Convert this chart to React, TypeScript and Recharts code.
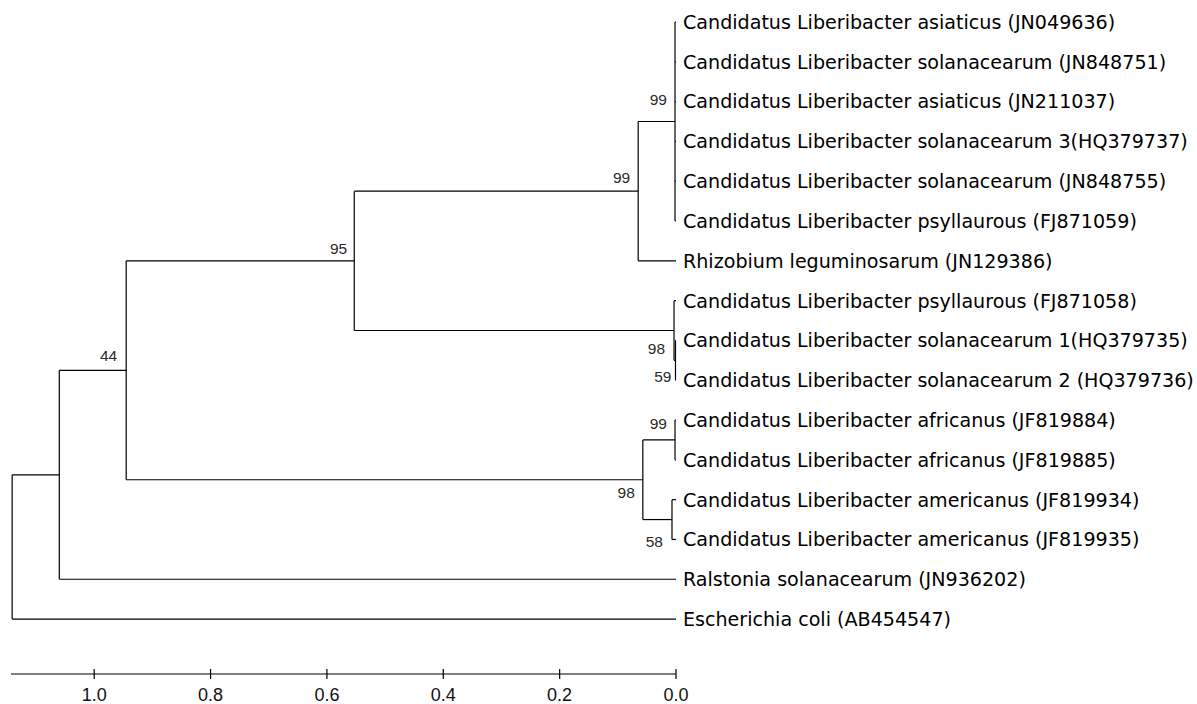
import React from 'react';
import { ScatterChart, Scatter, XAxis, YAxis } from 'recharts';

// ---- data ----
const leafNames: string[] = [
  'Candidatus Liberibacter asiaticus (JN049636)',
  'Candidatus Liberibacter solanacearum (JN848751)',
  'Candidatus Liberibacter asiaticus (JN211037)',
  'Candidatus Liberibacter solanacearum 3(HQ379737)',
  'Candidatus Liberibacter solanacearum (JN848755)',
  'Candidatus Liberibacter psyllaurous (FJ871059)',
  'Rhizobium leguminosarum (JN129386)',
  'Candidatus Liberibacter psyllaurous (FJ871058)',
  'Candidatus Liberibacter solanacearum 1(HQ379735)',
  'Candidatus Liberibacter solanacearum 2 (HQ379736)',
  'Candidatus Liberibacter africanus (JF819884)',
  'Candidatus Liberibacter africanus (JF819885)',
  'Candidatus Liberibacter americanus (JF819934)',
  'Candidatus Liberibacter americanus (JF819935)',
  'Ralstonia solanacearum (JN936202)',
  'Escherichia coli (AB454547)',
];
const leafDepths: number[] = [0, 0, 0, 0, 0, 0, 0, 0, 0, 0, 0, 0, 0, 0, 0, 0];

const nodeIds: string[] = ['root', 'n1', 'n44', 'n95', 'n99a', 'n99b', 'n98a', 'n59', 'n98b', 'n99c', 'n58'];
const nodeDepths: number[] = [1.141, 1.06, 0.945, 0.553, 0.065, 0.0017, 0.0034, 0.0009, 0.057, 0.0017, 0.0069];
const nodeSupport: string[] = ['', '', '44', '95', '99', '99', '98', '59', '98', '99', '58'];
const nodeChildren: string[][] = [
  ['n1', 'L15'],
  ['n44', 'L14'],
  ['n95', 'n98b'],
  ['n99a', 'n98a'],
  ['n99b', 'L6'],
  ['L0', 'L1', 'L2', 'L3', 'L4', 'L5'],
  ['L7', 'n59'],
  ['L8', 'L9'],
  ['n99c', 'n58'],
  ['L10', 'L11'],
  ['L12', 'L13'],
];
const axisTicks: number[] = [0, 0.2, 0.4, 0.6, 0.8, 1.0];

// ---- styles (label offsets in px relative to node) ----
const supportOffset: Record<string, [number, number]> = {
  n44: [-9, -9],
  n95: [-7, -7],
  n99a: [-8, -8],
  n99b: [-8, -17],
  n98a: [-9, 24],
  n59: [-4, 22],
  n98b: [-8, 18],
  n99c: [-8, -11],
  n58: [-9, 27],
};
const LINE = '#000';

// ---- layout ----
type P = { x: number; y: number };
const pos: Record<string, P> = {};
leafNames.forEach((_, i) => {
  pos['L' + i] = { x: leafDepths[i], y: i };
});
for (let i = nodeIds.length - 1; i >= 0; i--) {
  const ys = nodeChildren[i].map((c) => pos[c].y);
  pos[nodeIds[i]] = { x: nodeDepths[i], y: (Math.min(...ys) + Math.max(...ys)) / 2 };
}
const segments: P[][] = [];
nodeIds.forEach((id, i) => {
  const p = pos[id];
  const ys = nodeChildren[i].map((c) => pos[c].y);
  segments.push([
    { x: p.x, y: Math.min(...ys) },
    { x: p.x, y: Math.max(...ys) },
  ]);
  nodeChildren[i].forEach((c) => {
    segments.push([
      { x: p.x, y: pos[c].y },
      { x: pos[c].x, y: pos[c].y },
    ]);
  });
});
const leafData = leafNames.map((name, i) => ({ x: leafDepths[i], y: i, name }));
const supportData = nodeIds
  .map((id, i) => ({ x: pos[id].x, y: pos[id].y, id, label: nodeSupport[i] }))
  .filter((d) => d.label !== '');

const Empty = () => <g />;

const LeafLabel = (props: any) => (
  <text
    x={props.cx + 7}
    y={props.cy}
    dy="0.36em"
    fontFamily="DejaVu Sans"
    fontSize={19.1}
    fill="#000"
  >
    {props.payload.name}
  </text>
);

const SupportLabel = (props: any) => {
  const off = supportOffset[props.payload.id] || [-8, -8];
  return (
    <text
      x={props.cx + off[0]}
      y={props.cy + off[1]}
      textAnchor="end"
      fontFamily="Liberation Sans"
      fontSize={15.5}
      fill="#2a2a2a"
    >
      {props.payload.label}
    </text>
  );
};

const AxisTick = (props: any) => {
  const { x, y, payload } = props;
  return (
    <g>
      <line x1={x} x2={x} y1={y - 5} y2={y + 5} stroke={LINE} strokeWidth={1.2} />
      <text
        x={x}
        y={y + 27}
        textAnchor="middle"
        fontFamily="Liberation Sans Narrow, Liberation Sans"
        fontSize={18}
        fill="#111"
      >
        {Number(payload.value).toFixed(1)}
      </text>
    </g>
  );
};

export default function App() {
  return (
    <div style={{ position: 'absolute', left: 0, top: 0, background: '#fff' }}>
      <ScatterChart width={1197} height={704} margin={{ top: 22, right: 521, bottom: 0, left: 11 }}>
        <XAxis
          type="number"
          dataKey="x"
          domain={[0, 1.143]}
          reversed
          ticks={axisTicks}
          interval={0}
          height={30}
          tickLine={false}
          tickSize={0}
          tickMargin={0}
          axisLine={{ stroke: LINE, strokeWidth: 1.2 }}
          tick={<AxisTick />}
        />
        <YAxis type="number" dataKey="y" domain={[0, 16.38]} reversed hide />
        {segments.map((seg, i) => (
          <Scatter
            key={'s' + i}
            data={seg}
            line={{ stroke: LINE, strokeWidth: 1.2 }}
            lineType="joint"
            shape={<Empty />}
            isAnimationActive={false}
          />
        ))}
        <Scatter data={leafData} shape={LeafLabel} isAnimationActive={false} />
        <Scatter data={supportData} shape={SupportLabel} isAnimationActive={false} />
      </ScatterChart>
    </div>
  );
}
